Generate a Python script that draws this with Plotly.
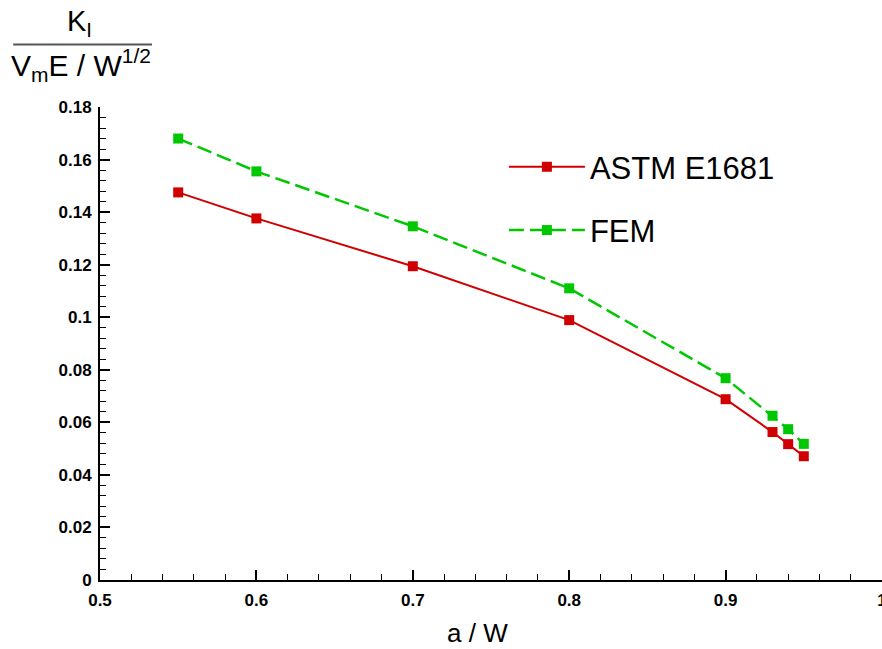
import plotly.graph_objects as go

# Data
a_over_w = [0.55, 0.60, 0.70, 0.80, 0.90, 0.93, 0.94, 0.95]
astm_e1681 = [0.1475, 0.1376, 0.1194, 0.0989, 0.0688, 0.0563, 0.0517, 0.0471]
fem = [0.1680, 0.1555, 0.1346, 0.1110, 0.0768, 0.0625, 0.0574, 0.0518]

series_names = ["ASTM E1681", "FEM"]
x_title = "a / W"
y_num = "K<sub>I</sub>"
y_den = "V<sub>m</sub>E / W<sup>1/2</sup>"

RED = "#d00000"
GREEN = "#00c800"
FONT = "Liberation Sans, Arial, sans-serif"

fig = go.Figure()
fig.add_trace(go.Scatter(
    x=a_over_w, y=astm_e1681, name=series_names[0], mode="lines+markers",
    line=dict(color=RED, width=2),
    marker=dict(symbol="square", size=10, color=RED),
    legendgroup="a", cliponaxis=False,
))
fig.add_trace(go.Scatter(
    x=a_over_w, y=fem, name=series_names[1], mode="lines+markers",
    line=dict(color=GREEN, width=2.5, dash="15px,6px"),
    marker=dict(symbol="square", size=10, color=GREEN),
    legendgroup="b", cliponaxis=False,
))

axis_common = dict(
    showgrid=False, zeroline=False, showline=True, linecolor="black", linewidth=2,
    ticks="inside", ticklen=10, tickwidth=2, tickcolor="black", automargin=False,
    tickfont=dict(family=FONT, size=17, color="black", weight="bold"),
)

fig.update_xaxes(
    range=[0.5, 1.0], dtick=0.1, tick0=0.5,
    minor=dict(ticks="inside", ticklen=6, tickwidth=1, tickcolor="black", dtick=0.02),
    ticklabeloverflow="allow", ticklabelstandoff=4,
    **axis_common,
)
fig.update_yaxes(
    range=[0, 0.18], dtick=0.02, tick0=0,
    minor=dict(ticks="inside", ticklen=6, tickwidth=1, tickcolor="black", dtick=0.004),
    ticklabelstandoff=3,
    **axis_common,
)

# x-axis title (placed slightly left of centre as in the reference)
fig.add_annotation(text=x_title, xref="paper", yref="paper", x=0.483, y=-0.111,
                   showarrow=False, xanchor="center", yanchor="middle",
                   font=dict(family=FONT, size=26, color="black"))

# Fraction-style y-axis title
fig.add_annotation(text=y_num, xref="paper", yref="paper", x=-0.026, y=1.178,
                   showarrow=False, xanchor="center", yanchor="middle",
                   font=dict(family=FONT, size=29, color="black"))
fig.add_annotation(text=y_den, xref="paper", yref="paper", x=-0.024, y=1.088,
                   showarrow=False, xanchor="center", yanchor="middle",
                   font=dict(family=FONT, size=30, color="black"))
fig.add_shape(type="line", xref="paper", yref="paper", x0=-0.111, x1=0.0665,
              y0=1.132, y1=1.132, line=dict(color="#555555", width=2))

fig.update_layout(
    width=882, height=649, autosize=False,
    margin=dict(l=100, r=0, t=107, b=69, autoexpand=False),
    paper_bgcolor="white", plot_bgcolor="white",
    showlegend=True,
    legend=dict(
        x=0.5165, y=0.93, xanchor="left", yanchor="top",
        bgcolor="rgba(0,0,0,0)", borderwidth=0,
        font=dict(family=FONT, size=31, color="black"),
        itemwidth=76, traceorder="grouped", tracegroupgap=20,
    ),
)

fig.write_html("out.html")
